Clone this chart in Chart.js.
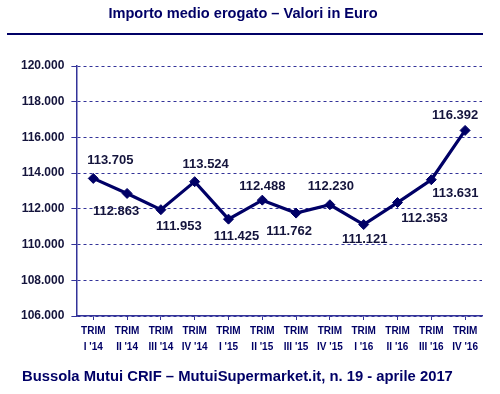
<!DOCTYPE html>
<html>
<head>
<meta charset="utf-8">
<script src="https://cdn.jsdelivr.net/npm/chart.js@4"></script>
<style>
    html, body { margin: 0; padding: 0; background: #ffffff; }
    #wrap { position: relative; width: 500px; height: 394px; font-family: Arial, 'Liberation Sans', sans-serif; }
    #title { position: absolute; left: 0; width: 486px; top: 5px; text-align: center; font-weight: bold; font-size: 14.6px; color: #000066; }
    #rule { position: absolute; left: 7px; width: 476px; top: 33px; height: 2px; background: #000066; }
    #footer { position: absolute; left: 22px; top: 368px; font-weight: bold; font-size: 14.8px; color: #000066; white-space: nowrap; }
    canvas { position: absolute; left: 0; top: 0; }
</style>
</head>
<body>
<div id="wrap">
    <canvas id="chart" width="500" height="394"></canvas>
    <div id="title">Importo medio erogato – Valori in Euro</div>
    <div id="rule"></div>
    <div id="footer">Bussola Mutui CRIF – MutuiSupermarket.it, n. 19 - aprile 2017</div>
</div>
<script>
// Quarters and average amount (Euro)
const quarters = ['I \'14', 'II \'14', 'III \'14', 'IV \'14', 'I \'15', 'II \'15', 'III \'15', 'IV \'15', 'I \'16', 'II \'16', 'III \'16', 'IV \'16'];
const amounts = [113705, 112863, 111953, 113524, 111425, 112488, 111762, 112230, 111121, 112353, 113631, 116392];
const yMin = 106000;
const yMax = 120000;
const yStep = 2000;

function formatEuro(v) {
    return (v / 1000).toFixed(3);
}

// label placement relative to each point (dx, dy)
const labelOffsets = [
    [17, -18], [-11, 18], [18, 17], [11, -17], [8, 17], [0, -14],
    [-7, 18], [1, -18], [1, 15], [27, 16], [24, 14], [-10, -15]
];

const valueLabels = {
    id: 'valueLabels',
    afterDatasetsDraw(chart) {
        const ctx = chart.ctx;
        const meta = chart.getDatasetMeta(0);
        ctx.save();
        ctx.font = 'bold 13px Arial, "Liberation Sans", sans-serif';
        ctx.fillStyle = '#14143c';
        ctx.textAlign = 'center';
        ctx.textBaseline = 'middle';
        meta.data.forEach((pt, i) => {
            const off = labelOffsets[i] || [0, -16];
            ctx.fillText(formatEuro(amounts[i]), pt.x + off[0], pt.y + off[1]);
        });
        ctx.restore();
    }
};

const ctx = document.getElementById('chart').getContext('2d');
new Chart(ctx, {
    type: 'line',
    data: {
        labels: quarters.map(q => ['TRIM', q]),
        datasets: [{
            data: amounts,
            borderColor: '#000066',
            backgroundColor: '#000066',
            borderWidth: 3.2,
            pointStyle: 'rectRot',
            pointRadius: 5,
            pointBorderWidth: 1,
            tension: 0
        }]
    },
    options: {
        responsive: false,
        animation: false,
        layout: {
            padding: { top: 66, right: 18, bottom: 36, left: 14 }
        },
        plugins: {
            legend: { display: false },
            tooltip: { enabled: false }
        },
        scales: {
            x: {
                offset: true,
                grid: {
                    display: true,
                    drawOnChartArea: false,
                    drawTicks: true,
                    tickLength: 4,
                    color: '#333399'
                },
                border: { display: true, color: '#333399', width: 1.5 },
                ticks: {
                    color: '#000066',
                    padding: 3,
                    maxRotation: 0,
                    autoSkip: false,
                    font: { family: 'Arial, "Liberation Sans", sans-serif', size: 10, weight: 'bold', lineHeight: 1.6 }
                }
            },
            y: {
                min: yMin,
                max: yMax,
                grid: {
                    color: '#333399',
                    lineWidth: 1,
                    tickLength: 5
                },
                border: { display: true, color: '#333399', width: 1.5, dash: [3, 3] },
                ticks: {
                    stepSize: yStep,
                    color: '#14143c',
                    padding: 7,
                    callback: v => formatEuro(v),
                    font: { family: 'Arial, "Liberation Sans", sans-serif', size: 12, weight: 'bold' }
                }
            }
        }
    },
    plugins: [valueLabels]
});
</script>
</body>
</html>
